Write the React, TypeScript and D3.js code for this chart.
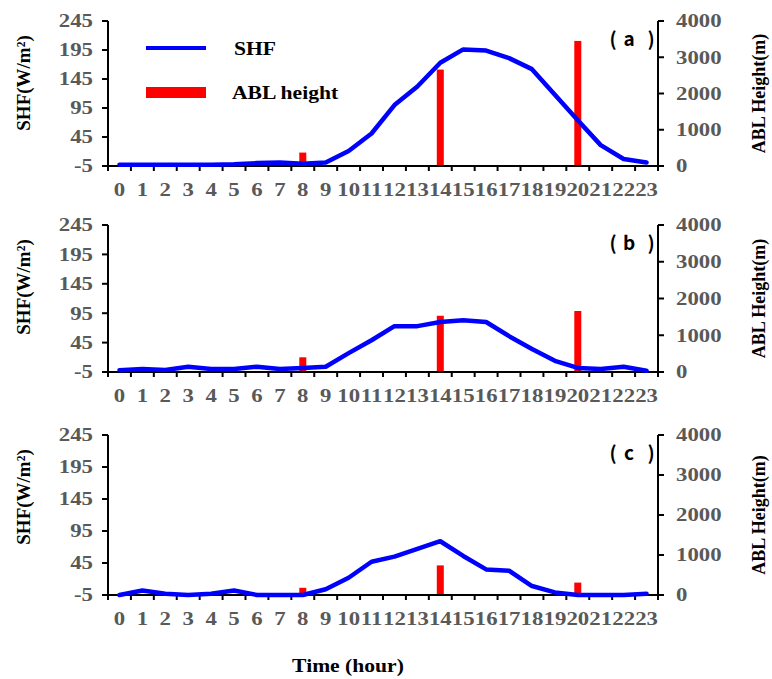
import React from "react";
import * as d3 from "d3";

const hours = ["0","1","2","3","4","5","6","7","8","9","10","11","12","13","14","15","16","17","18","19","20","21","22","23"];
const leftTicks = [-5, 45, 95, 145, 195, 245];
const rightTicks = [0, 1000, 2000, 3000, 4000];

const shfA = [-3,-3,-3,-3,-3,-2,0,1,-1,1,21,51,100,132,173,196,194,181,162,118,74,31,7,1];
const shfB = [-2,0,-1.5,4,0,0,4,0,2,4,27,49,73,73,80,83,80,56,34,14,2,0,4,-3];
const shfC = [-5,2,-3,-5,-3,2,-5,-5,-5,4,22,47,55,67,79,56,35,33,9,-1,-5,-5,-5,-3];

const ablHours = ["8","14","20"];
const ablA = [370, 2660, 3450];
const ablB = [400, 1530, 1660];
const ablC = [180, 740, 310];

const panelLetters = ["a", "b", "c"];

const W = 772, H = 679;
const X0 = 108, X1 = 658;
const SX = 1.2;
const GRAY = "#595959";
const SERIF = "'Liberation Serif', 'Times New Roman', serif";
const SANS = "'Noto Sans CJK SC', 'Noto Sans', sans-serif";

const layout = [
  { top: 21, bottom: 166 },
  { top: 225, bottom: 372 },
  { top: 435, bottom: 595 },
];

const series = [
  { shf: shfA, abl: ablA },
  { shf: shfB, abl: ablB },
  { shf: shfC, abl: ablC },
];

function SText({ x, y, children, anchor = "start", size = 19, fill = "#000", family = SERIF, dy = "0", weight = "bold" }: any) {
  return (
    <text
      transform={`translate(${x},${y}) scale(${SX},1)`}
      textAnchor={anchor}
      fontSize={size}
      fontFamily={family}
      fontWeight={weight}
      fill={fill}
      dy={dy}
    >
      {children}
    </text>
  );
}

function Panel({ idx }: { idx: number }) {
  const { top, bottom } = layout[idx];
  const { shf, abl } = series[idx];
  const x = d3.scaleBand<string>().domain(hours).range([X0, X1]);
  const bw = x.bandwidth();
  const yL = d3.scaleLinear().domain([-5, 245]).range([bottom, top]);
  const yR = d3.scaleLinear().domain([0, 4000]).range([bottom, top]);
  const line = d3
    .line<number>()
    .x((_, i) => (x(hours[i]) as number) + bw / 2)
    .y((d) => yL(d));
  const barW = 7;
  const mid = (top + bottom) / 2;
  const ly = top + 25;
  return (
    <g>
      {abl.map((v, i) => {
        const cx = (x(ablHours[i]) as number) + bw / 2;
        return (
          <rect key={i} x={cx - barW / 2} y={yR(v)} width={barW} height={yR(0) - yR(v)} fill="#ff0000" />
        );
      })}
      <line x1={X0} x2={X0} y1={top} y2={bottom} stroke="#000" strokeWidth={2} />
      <line x1={X1} x2={X1} y1={top} y2={bottom} stroke="#000" strokeWidth={2} />
      <line x1={X0} x2={X1} y1={bottom} y2={bottom} stroke="#000" strokeWidth={2} />
      {leftTicks.map((t) => (
        <g key={"l" + t}>
          <line x1={X0 - 6} x2={X0} y1={yL(t)} y2={yL(t)} stroke="#000" strokeWidth={2} />
          <SText x={X0 - 15} y={yL(t)} anchor="end" fill={GRAY} dy="0.34em">{t}</SText>
        </g>
      ))}
      {rightTicks.map((t) => (
        <g key={"r" + t}>
          <line x1={X1} x2={X1 + 6} y1={yR(t)} y2={yR(t)} stroke="#000" strokeWidth={2} />
          <SText x={X1 + 18} y={yR(t)} anchor="start" fill={GRAY} dy="0.34em">{t}</SText>
        </g>
      ))}
      {hours.map((h) => (
        <g key={"b" + h}>
          <line x1={x(h)} x2={x(h)} y1={bottom} y2={bottom + 5} stroke="#000" strokeWidth={2} />
          <SText x={(x(h) as number) + bw / 2} y={bottom + 30} anchor="middle" fill={GRAY}>{h}</SText>
        </g>
      ))}
      <line x1={X1} x2={X1} y1={bottom} y2={bottom + 5} stroke="#000" strokeWidth={2} />
      <path d={line(shf) || ""} fill="none" stroke="#0000ff" strokeWidth={4.5} strokeLinejoin="round" strokeLinecap="round" />
      {/* panel label (a) with wide spacing */}
      <g fontFamily={SANS} fontWeight="bold" fill="#000">
        <text x={613} y={ly} fontSize={19} textAnchor="middle">(</text>
        <text x={629} y={ly} fontSize={19} textAnchor="middle">{panelLetters[idx]}</text>
        <text x={651} y={ly} fontSize={19} textAnchor="middle">)</text>
      </g>
      <text transform={`translate(30,${top + 62}) rotate(-90)`} textAnchor="middle" fontSize={19} fontFamily={SERIF} fontWeight="bold">SHF(W/m²)</text>
      <text transform={`translate(765,${mid}) rotate(-90)`} textAnchor="middle" fontSize={18} fontFamily={SERIF} fontWeight="bold">ABL Height(m)</text>
    </g>
  );
}

export default function App() {
  return (
    <svg width={W} height={H} style={{ position: "absolute", left: 0, top: 0, background: "#fff" }}>
      <rect width={W} height={H} fill="#fff" />
      {layout.map((_, i) => (
        <Panel key={i} idx={i} />
      ))}
      <line x1={146} x2={206} y1={48} y2={48} stroke="#0000ff" strokeWidth={4} />
      <SText x={234} y={55} size={18}>SHF</SText>
      <rect x={146} y={87} width={60} height={11} fill="#ff0000" />
      <SText x={232} y={99} size={18}>ABL height</SText>
      <SText x={348} y={672} anchor="middle" size={18}>Time (hour)</SText>
    </svg>
  );
}
